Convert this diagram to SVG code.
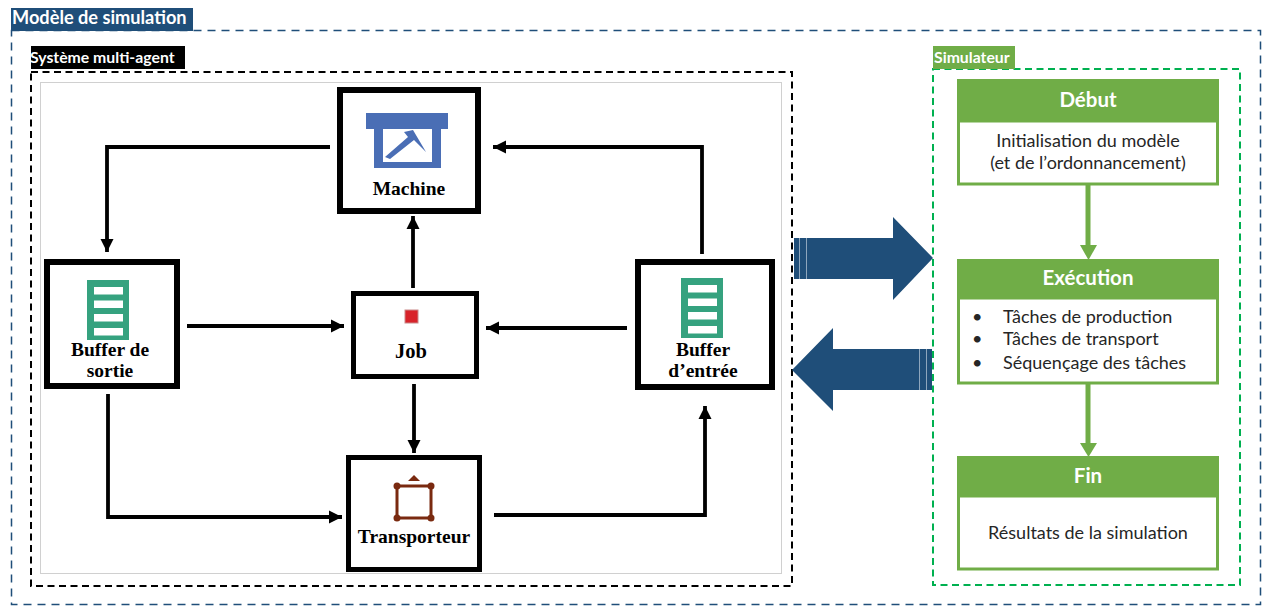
<svg xmlns="http://www.w3.org/2000/svg" width="1262" height="606" viewBox="0 0 1262 606">
<defs>
<marker id="ah" markerUnits="userSpaceOnUse" markerWidth="14" markerHeight="14" refX="13" refY="7" orient="auto"><path d="M0,0.5 L13,7 L0,13.5 Z" fill="#000"/></marker>
<g id="ladder"><rect x="0" y="0" width="42" height="60" fill="#35a27f"/><rect x="7" y="7" width="29" height="7.500" fill="#fff"/><rect x="7" y="20.500" width="29" height="7.500" fill="#fff"/><rect x="7" y="34" width="29" height="7.500" fill="#fff"/><rect x="7" y="48" width="29" height="7.500" fill="#fff"/></g>
</defs>
<style>
.box{fill:#fff;stroke:#000}
.ag{font:bold 19.500px "Liberation Serif",serif;fill:#000;text-anchor:middle}
.tag{font:bold 15.800px "Lato","Open Sans",sans-serif;fill:#fff}
.head{fill:#70ad47}
.hd{font:bold 20.500px "Lato","Open Sans",sans-serif;fill:#fff;text-anchor:middle}
.bd{fill:#fff;stroke:#70ad47;stroke-width:3}
.tx{font:18px "Lato","Open Sans",sans-serif;fill:#262626}
.mid{text-anchor:middle}
.conn{fill:none;stroke:#000;stroke-width:3.800;marker-end:url(#ah)}
.gconn{fill:none;stroke:#70ad47;stroke-width:5}
.blue{fill:#1f4e79}
.seam{stroke:#8ea6bd;stroke-width:1}
</style>
<rect width="1262" height="606" fill="#fff"/>

<g id="frames">
<rect x="11.500" y="30.500" width="1249" height="574" fill="none" stroke="#1f4e79" stroke-width="1.500" stroke-dasharray="8 6"/>
<rect x="40.500" y="82.500" width="741" height="491" fill="#fff" stroke="#d0d0d0"/>
<rect x="31" y="72" width="761" height="514" fill="none" stroke="#000" stroke-width="2" stroke-dasharray="7 4.500"/>
<rect x="933" y="69" width="307" height="516" fill="none" stroke="#00b050" stroke-width="2" stroke-dasharray="7 4.500"/>
</g>

<g id="title-model"><rect x="11" y="8" width="182" height="23" fill="#1f4e79"/><text x="12" y="23.500" font-family="Lato,'Open Sans',sans-serif" font-weight="700" font-size="18.200" fill="#fff">Modèle de simulation</text></g>
<g id="title-mas"><rect x="31" y="46" width="154" height="23" fill="#000"/><text x="30" y="63" class="tag">Système multi-agent</text></g>
<g id="title-sim"><rect x="933" y="46" width="82" height="23" fill="#70ad47"/><text x="934" y="63" class="tag">Simulateur</text></g>

<g id="connectors">
<path class="conn" d="M330,147 H107 V252"/>
<path class="conn" d="M702,254 V147 H493"/>
<path class="conn" d="M413,288 V216"/>
<path class="conn" d="M187,326 H344"/>
<path class="conn" d="M627,328 H486"/>
<path class="conn" d="M414,384 V453"/>
<path class="conn" d="M108,394 V517 H342"/>
<path class="conn" d="M494,515 H705 V406"/>
<path class="gconn" d="M1088,185 V248"/>
<path d="M1080,245 H1097 L1088.500,260 Z" fill="#70ad47"/>
<path class="gconn" d="M1088,384 V446"/>
<path d="M1080,443 H1097 L1088.500,457 Z" fill="#70ad47"/>
</g>

<g id="machine">
<rect class="box" x="340" y="90" width="138" height="121" stroke-width="6"/>
<path d="M366,113 H448 V129 H441 V168 H374 V129 H366 Z M383,129 V162 H432 V129 Z" fill="#4a6eb5" fill-rule="evenodd"/>
<path d="M385,157 L408,137 L404,132 L413,130 L426,152 L414,140 L390,159 Z" fill="#4a6eb5"/>
<text class="ag" x="409" y="195">Machine</text>
</g>

<g id="buffer-sortie">
<rect class="box" x="47" y="262" width="130" height="124" stroke-width="6"/>
<use href="#ladder" x="87" y="280"/>
<text class="ag" x="110" y="356">Buffer de</text>
<text class="ag" x="110" y="377">sortie</text>
</g>

<g id="job">
<rect class="box" x="353.500" y="293.500" width="123" height="83" stroke-width="5"/>
<rect x="405" y="310" width="13" height="13" fill="#d8232a" stroke="#c98a8a"/>
<text class="ag" x="411" y="358" style="font-size:20.500px">Job</text>
</g>

<g id="buffer-entree">
<rect class="box" x="638" y="262" width="134" height="125" stroke-width="6"/>
<use href="#ladder" x="681" y="278"/>
<text class="ag" x="703" y="356">Buffer</text>
<text class="ag" x="703" y="377">d’entrée</text>
</g>

<g id="transporteur">
<rect class="box" x="348.500" y="457.500" width="131" height="112" stroke-width="5"/>
<path d="M408,481 L414,475 L420,481 Z" fill="#7a2a10"/>
<path d="M397,486 H431 V518 H397 Z" fill="none" stroke="#7a2a10" stroke-width="3"/>
<g fill="#7a2a10"><circle cx="397" cy="486" r="3.500"/><circle cx="431" cy="486" r="3.500"/><circle cx="397" cy="518" r="3.500"/><circle cx="431" cy="518" r="3.500"/></g>
<text class="ag" x="414" y="543">Transporteur</text>
</g>

<g id="arrow-right">
<path class="blue" d="M794,238 H893 V217 L933,258 L893,300 V279 H794 Z"/>
<path class="seam" d="M799.500,238 V279 M806.500,238 V279"/>
</g>
<g id="arrow-left">
<path class="blue" d="M932,349 H833 V328 L792,370 L833,411 V390 H932 Z"/>
<path class="seam" d="M919.500,349 V390 M926.500,349 V390"/>
</g>

<g id="debut">
<rect class="bd" x="958.500" y="121" width="259" height="63"/>
<rect class="head" x="957" y="79" width="262" height="43"/>
<text class="hd" x="1088" y="107">Début</text>
<text class="tx mid" x="1088" y="147">Initialisation du modèle</text>
<text class="tx mid" x="1088" y="169">(et de l’ordonnancement)</text>
</g>
<g id="execution">
<rect class="bd" x="958.500" y="298" width="259" height="85"/>
<rect class="head" x="957" y="259" width="262" height="40"/>
<text class="hd" x="1088" y="285">Exécution</text>
<text class="tx" x="972" y="323">•</text><text class="tx" x="1003" y="323">Tâches de production</text>
<text class="tx" x="972" y="345">•</text><text class="tx" x="1003" y="345">Tâches de transport</text>
<text class="tx" x="972" y="369">•</text><text class="tx" x="1003" y="369">Séquençage des tâches</text>
</g>
<g id="fin">
<rect class="bd" x="958.500" y="496" width="259" height="73"/>
<rect class="head" x="957" y="456" width="262" height="41"/>
<text class="hd" x="1088" y="483">Fin</text>
<text class="tx mid" x="1088" y="539">Résultats de la simulation</text>
</g>
</svg>
